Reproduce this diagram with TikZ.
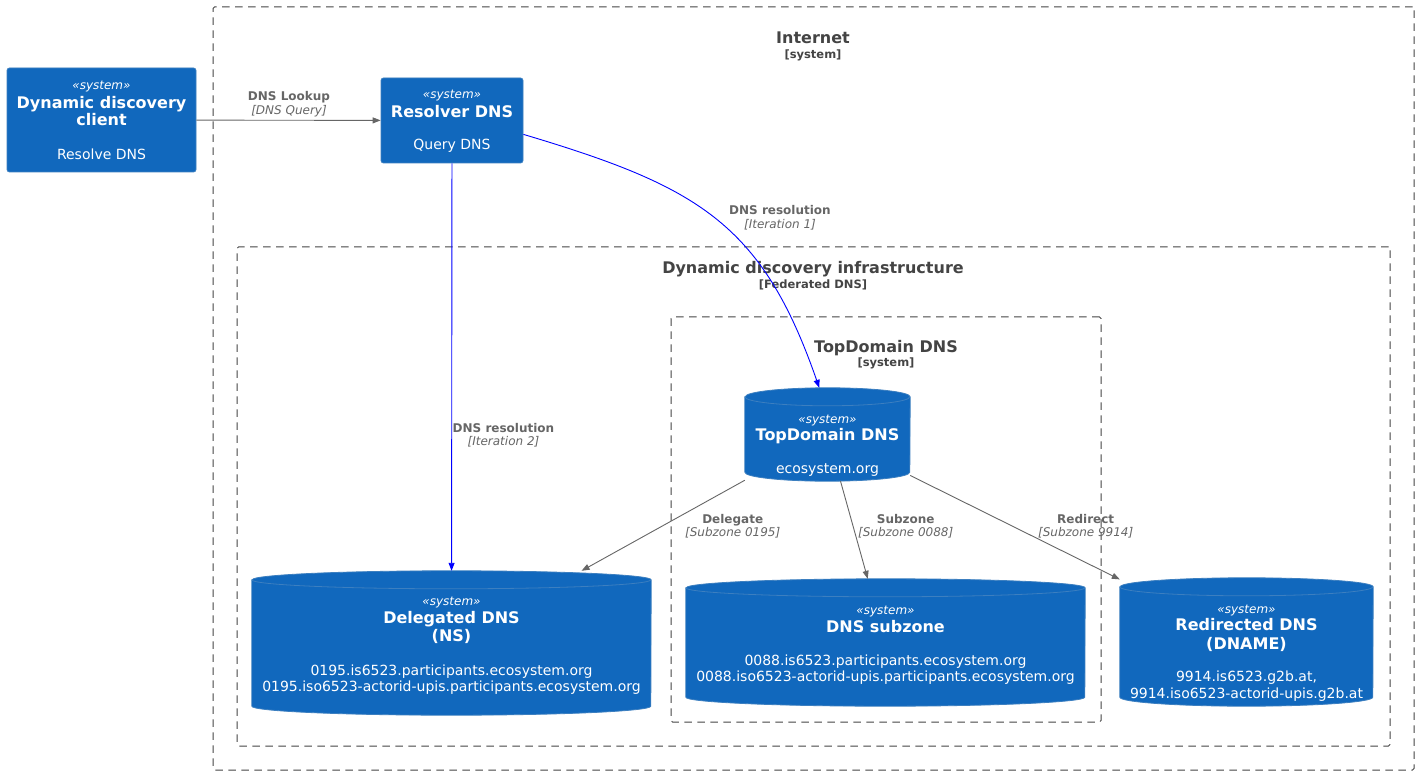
\documentclass[tikz,border=0pt]{standalone}
\usepackage{fontspec}
\setmainfont{DejaVu Sans}
\usetikzlibrary{arrows.meta,calc}
\definecolor{sysfill}{HTML}{1168BD}
\definecolor{sysline}{HTML}{3C7FC0}
\definecolor{bnd}{HTML}{444444}
\definecolor{rel}{HTML}{666666}
\definecolor{blueline}{HTML}{0000FF}
\newcommand{\drawcyl}[3]{%
  \path[cylbody] ([yshift=-#3pt]#1.north west) -- ([yshift=#3pt]#1.south west)
    arc[start angle=180,end angle=360,x radius=#2pt,y radius=#3pt]
    -- ([yshift=-#3pt]#1.north east)
    arc[start angle=0,end angle=180,x radius=#2pt,y radius=#3pt] -- cycle;
  \draw[cylrim] ([yshift=-#3pt]#1.north west)
    arc[start angle=180,end angle=360,x radius=#2pt,y radius=#3pt];}
\tikzset{
  sysbox/.style={draw=sysline, fill=sysfill, rounded corners=2.5pt, line width=0.8pt, inner sep=0},
  cylnode/.style={draw=none, inner sep=0},
  cylbody/.style={draw=sysline, fill=sysfill, line width=0.8pt},
  cylrim/.style={draw=sysline, line width=0.8pt},
  bndbox/.style={draw=bnd, dash pattern=on 7.5pt off 5.5pt, rounded corners=1.5pt, line width=1pt, inner sep=0},
  tx/.style={anchor=base, inner sep=0, text=white},
  ster/.style={tx, font=\fontsize{12}{14}\selectfont\itshape},
  nm/.style={tx, font=\fontsize{16}{19}\selectfont\bfseries},
  ds/.style={tx, font=\fontsize{14}{16}\selectfont},
  btitle/.style={anchor=base, inner sep=0, text=bnd, font=\fontsize{16}{19}\selectfont\bfseries},
  btype/.style={anchor=base, inner sep=0, text=bnd, font=\fontsize{11.5}{14}\selectfont\bfseries},
  rlab/.style={anchor=base, inner sep=0, text=rel, font=\fontsize{12}{14}\selectfont\bfseries},
  rtech/.style={anchor=base, inner sep=0, text=rel, font=\fontsize{12}{14}\selectfont\itshape},
  relline/.style={draw=rel, line width=0.9pt, -{Triangle[length=8pt,width=6pt]}},
  blueedge/.style={draw=blueline, line width=0.9pt, -{Triangle[length=8pt,width=6pt]}},
}
\begin{document}
\begin{tikzpicture}[x=1pt,y=-1pt]
\useasboundingbox[fill=white] (0,0) rectangle (1419,775);

% boundaries
\node[bndbox, minimum width=1201pt, minimum height=763pt] (inet) at (813.5,388.5) {};
\node[btitle] (inetT) at (813,44) {Internet};
\node[btype] (inetS) at (813,59) {[system]};

\node[bndbox, minimum width=1153pt, minimum height=499pt] (infra) at (813.5,496.5) {};
\node[btitle] (infraT) at (813,274) {Dynamic discovery infrastructure};
\node[btype] (infraS) at (813,288.3) {[Federated DNS]};

\node[bndbox, minimum width=430pt, minimum height=405pt] (tdb) at (886,519.5) {};
\node[btitle] (tdbT) at (886,353) {TopDomain DNS};
\node[btype] (tdbS) at (886,367) {[system]};

% client
\node[sysbox, minimum width=189pt, minimum height=104pt] (client) at (101.5,120) {};
\node[ster] (clientA) at (101.5,89.3) {«system»};
\node[nm] (clientB) at (101.5,108.3) {Dynamic discovery};
\node[nm] (clientC) at (101.5,125.7) {client};
\node[ds] (clientD) at (101.5,159.3) {Resolve DNS};

% resolver
\node[sysbox, minimum width=142pt, minimum height=85pt] (res) at (452,120.5) {};
\node[ster] (resA) at (452,98.3) {«system»};
\node[nm] (resB) at (452,117.3) {Resolver DNS};
\node[ds] (resC) at (452,150) {Query DNS};

% cylinders
\node[cylnode, minimum width=165pt, minimum height=93pt] (td) at (827.5,434.5) {};
\drawcyl{td}{82.5}{9}
\node[ster] (tdA) at (827.5,423.3) {«system»};
\node[nm] (tdB) at (827.5,440) {TopDomain DNS};
\node[ds] (tdC) at (827.5,473.3) {ecosystem.org};

\node[cylnode, minimum width=399pt, minimum height=144pt] (del) at (451.5,643) {};
\drawcyl{del}{199.5}{9}
\node[ster] (delA) at (451.5,605.7) {«system»};
\node[nm] (delB) at (451.5,623.3) {Delegated DNS};
\node[nm] (delC) at (451.5,641.5) {(NS)};
\node[ds] (delD) at (451.5,675) {0195.is6523.participants.ecosystem.org};
\node[ds] (delE) at (451.5,691) {0195.iso6523-actorid-upis.participants.ecosystem.org};

\node[cylnode, minimum width=399pt, minimum height=127pt] (sub) at (885.5,642.5) {};
\drawcyl{sub}{199.5}{9}
\node[ster] (subA) at (885.5,614.3) {«system»};
\node[nm] (subB) at (885.5,632.3) {DNS subzone};
\node[ds] (subC) at (885.5,665) {0088.is6523.participants.ecosystem.org};
\node[ds] (subD) at (885.5,681.7) {0088.iso6523-actorid-upis.participants.ecosystem.org};

\node[cylnode, minimum width=253pt, minimum height=128pt] (red) at (1246.5,642) {};
\drawcyl{red}{126.5}{9}
\node[ster] (redA) at (1246.5,613.3) {«system»};
\node[nm] (redB) at (1246.5,630.7) {Redirected DNS};
\node[nm] (redC) at (1246.5,649.3) {(DNAME)};
\node[ds] (redD) at (1246.5,681.7) {9914.is6523.g2b.at,};
\node[ds] (redE) at (1246.5,698.3) {9914.iso6523-actorid-upis.g2b.at};

% connectors
\draw[relline] (client) -- (res);
\node[rlab] (l1a) at (289,100.7) {DNS Lookup};
\node[rtech] (l1b) at (289,115) {[DNS Query]};

\draw[blueedge] (res.-11) .. controls (698,186.5) and (762,223) .. (td.100);
\node[rlab] (l2a) at (780,215) {DNS resolution};
\node[rtech] (l2b) at (780,228.3) {[Iteration 1]};

\draw[blueedge] (res) -- (del);
\node[rlab] (l3a) at (503.5,432) {DNS resolution};
\node[rtech] (l3b) at (503.5,445) {[Iteration 2]};

\draw[relline] (td) -- (del);
\node[rlab] (l4a) at (732.7,523.3) {Delegate};
\node[rtech] (l4b) at (732.7,536.7) {[Subzone 0195]};

\draw[relline] (td) -- (sub);
\node[rlab] (l5a) at (905.7,523.3) {Subzone};
\node[rtech] (l5b) at (905.7,536.7) {[Subzone 0088]};

\draw[relline] (td) -- (red);
\node[rlab] (l6a) at (1085.7,523.3) {Redirect};
\node[rtech] (l6b) at (1085.7,536.7) {[Subzone 9914]};
\end{tikzpicture}
\end{document}
